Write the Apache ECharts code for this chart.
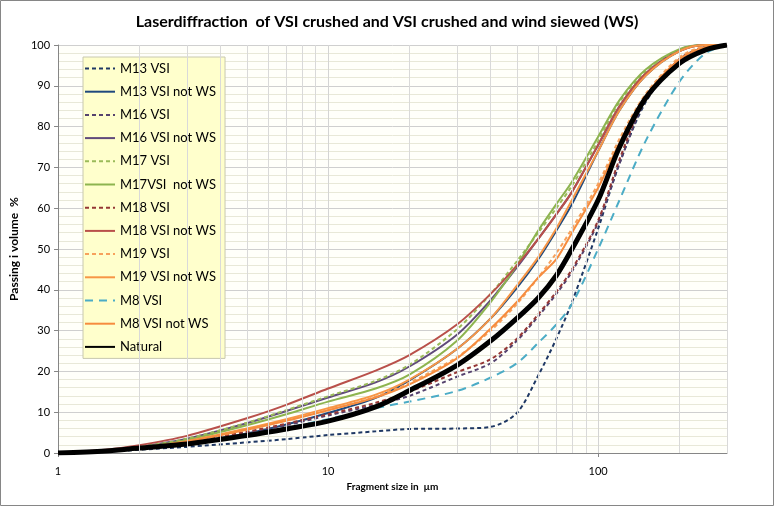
<!DOCTYPE html>
<html>
<head>
<meta charset="utf-8">
<script src="https://cdn.jsdelivr.net/npm/echarts@6/dist/echarts.min.js"></script>
<style>html,body{margin:0;padding:0;background:#fff}#c{width:774px;height:506px}</style>
</head>
<body>
<div id="c"></div>
<script>
// Fragment sizes (µm)
var sizes = [1, 1.5, 2, 3, 5, 7, 10, 15, 20, 30, 40, 50, 60, 70, 80, 100, 120, 150, 200, 250, 300];
// Passing (%) per series
var m13VSI    = [0, 0.3, 0.8, 1.5, 2.6, 3.4, 4.4, 5.3, 5.9, 6.0, 6.4, 9.8, 19, 28, 37, 55, 71, 86, 96.5, 99.5, 100];
var m13NotWS  = [0, 0.4, 1.1, 2.4, 4.8, 7, 9.8, 13.5, 17.8, 25.5, 33, 40.5, 47.5, 54.5, 61, 74, 84, 92.5, 98.5, 100, 100];
var m16VSI    = [0, 0.5, 1.2, 2.6, 5, 6.8, 9.2, 11.8, 14, 18.7, 22, 27.5, 33.5, 39, 44.5, 56.5, 71, 86.5, 96.5, 99.5, 100];
var m16NotWS  = [0, 0.6, 1.5, 3.5, 7.3, 10.3, 13.6, 17.3, 21.2, 29, 37.5, 45.5, 52.5, 58.5, 64, 75.5, 85, 93, 98.8, 100, 100];
var m17VSI    = [0, 0.6, 1.5, 3.5, 7.4, 10.5, 13.9, 17.7, 21.6, 30.3, 39, 47, 54, 60, 65.5, 76.5, 86, 93.5, 98.8, 100, 100];
var m17NotWS  = [0, 0.5, 1.3, 3.2, 6.8, 9.5, 12.6, 15.8, 19.2, 27.5, 37, 46, 54.5, 61, 66.5, 77.5, 86.5, 94, 99, 100, 100];
var m18VSI    = [0, 0.5, 1.2, 2.7, 5.2, 7.2, 9.5, 12.3, 15, 19.8, 23, 28, 34, 39.5, 45, 57, 72, 87, 96.5, 99.5, 100];
var m18NotWS  = [0, 0.8, 1.9, 4.2, 8.5, 11.8, 15.8, 20.2, 24, 31.5, 39, 46, 52.5, 58.5, 64, 75.5, 85, 93, 98.5, 100, 100];
var m19VSI    = [0, 0.5, 1.2, 2.8, 5.8, 8, 10.5, 13.8, 17.2, 23.5, 30, 36.5, 43, 49, 55, 66, 77, 88, 97, 99.7, 100];
var m19NotWS  = [0, 0.5, 1.2, 2.9, 6, 8.3, 11, 14.3, 18, 25.5, 33, 41, 48, 55, 62, 74, 84, 92.5, 98.5, 100, 100];
var m8VSI     = [0, 0.4, 1.1, 2.4, 4.6, 6.2, 8.3, 11, 12.6, 15.2, 18.5, 22, 27, 31.5, 36.5, 50, 62, 76.5, 91, 98, 100];
var m8NotWS   = [0, 0.5, 1.2, 2.8, 5.7, 7.9, 10.5, 13.6, 16.8, 23.2, 30.5, 37, 43, 47.5, 54, 65, 76, 87.5, 96.5, 99.5, 100];
var natural   = [0, 0.5, 1.2, 2.2, 4.3, 5.9, 7.8, 11.3, 15.3, 21.5, 27.5, 33, 38, 43.5, 50, 62, 75, 87, 95.5, 98.8, 100];
// Minor vertical grid positions (log axis)
var minorX = [2, 3, 4, 5, 6, 7, 8, 9, 20, 30, 40, 50, 60, 70, 80, 90, 200, 300];

var FONT = 'Lato, "Open Sans", sans-serif';

function pairs(ys) { return sizes.map(function (x, i) { return [x, ys[i]]; }); }

var defs = [
  ['M13 VSI', m13VSI, '#1f3864', 'dashed', 2],
  ['M13 VSI not WS', m13NotWS, '#1f497d', 'solid', 2],
  ['M16 VSI', m16VSI, '#55426e', 'dashed', 2],
  ['M16 VSI not WS', m16NotWS, '#604a7b', 'solid', 2],
  ['M17 VSI', m17VSI, '#9bbb59', 'dashed', 2],
  ['M17VSI  not WS', m17NotWS, '#8db44f', 'solid', 2],
  ['M18 VSI', m18VSI, '#953735', 'dashed', 2],
  ['M18 VSI not WS', m18NotWS, '#b9504a', 'solid', 2],
  ['M19 VSI', m19VSI, '#f7a15c', 'dashed', 2],
  ['M19 VSI not WS', m19NotWS, '#f79646', 'solid', 2],
  ['M8 VSI', m8VSI, '#4bacc6', 'longdash', 2],
  ['M8 VSI not WS', m8NotWS, '#f68c3e', 'solid', 2],
  ['Natural', natural, '#000000', 'solid', 5]
];

var series = [{
  type: 'line', name: '_grid', data: [], silent: true, z: 0,
  markLine: {
    silent: true, symbol: ['none', 'none'], label: { show: false },
    lineStyle: { color: '#d9d9d9', width: 1, type: 'solid' },
    data: minorX.map(function (v) { return { xAxis: v }; })
  }
}];
defs.forEach(function (d) {
  var t = d[3] === 'dashed' ? [4, 3] : (d[3] === 'longdash' ? [8, 6] : 'solid');
  series.push({
    type: 'line', name: d[0], data: pairs(d[1]), smooth: 0.3, symbol: 'none',
    lineStyle: { color: d[2], width: d[4], type: t },
    itemStyle: { color: d[2] }, z: 2
  });
});

var chart = echarts.init(document.getElementById('c'));
chart.setOption({
  animation: false,
  backgroundColor: '#ffffff',
  title: {
    text: 'Laserdiffraction  of VSI crushed and VSI crushed and wind siewed (WS)',
    left: 'center', top: 9,
    textStyle: { fontFamily: FONT, fontSize: 16, fontWeight: 'bold', color: '#000' }
  },
  legend: {
    orient: 'vertical', left: 83, top: 57,
    data: defs.map(function (d) { return d[0]; }),
    backgroundColor: '#ffffcc', borderColor: '#c8c8b0', borderWidth: 1,
    padding: [5, 9, 5, 1],
    itemWidth: 30, itemHeight: 14, itemGap: 10.2,
    itemStyle: { opacity: 0 },
    textStyle: { fontFamily: FONT, fontSize: 13, color: '#000' }
  },
  grid: { left: 53, right: 47, top: 45, bottom: 53, show: true, backgroundColor: '#fffffa', borderWidth: 0 },
  xAxis: {
    type: 'log', logBase: 10, min: 1, max: 300,
    name: 'Fragment size in  µm', nameLocation: 'middle', nameGap: 29,
    nameTextStyle: { fontFamily: FONT, fontSize: 10, fontWeight: 'bold', color: '#000' },
    axisLine: { lineStyle: { color: '#868686', width: 1 } },
    axisTick: { show: true, length: 4, lineStyle: { color: '#868686' } },
    axisLabel: { fontFamily: FONT, fontSize: 11, color: '#000', margin: 13, showMaxLabel: false },
    splitLine: { show: true, lineStyle: { color: '#d4d4d4', width: 1 } }
  },
  yAxis: {
    type: 'value', min: 0, max: 100, interval: 10,
    name: 'Passing i volume  %', nameLocation: 'middle', nameGap: 28,
    nameTextStyle: { fontFamily: FONT, fontSize: 12, fontWeight: 'bold', color: '#000' },
    axisLine: { show: true, lineStyle: { color: '#868686', width: 1 } },
    axisTick: { show: true, length: 4, lineStyle: { color: '#868686' } },
    axisLabel: { fontFamily: FONT, fontSize: 11, color: '#000', margin: 8 },
    splitLine: { show: true, lineStyle: { color: '#cfcfcf', width: 1 } },
    minorTick: { show: false, splitNumber: 5 },
    minorSplitLine: { show: true, lineStyle: { color: '#e8e8d8', width: 1 } }
  },
  graphic: [{
    type: 'rect', shape: { x: 0.5, y: 0.5, width: 773, height: 505 },
    style: { fill: null, stroke: '#868686', lineWidth: 1 }, silent: true, z: 100
  }],
  series: series
});
</script>
</body>
</html>
